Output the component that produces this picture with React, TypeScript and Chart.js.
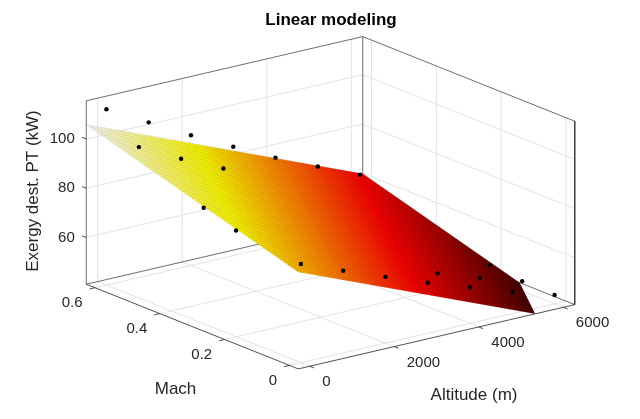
import React, { useEffect, useRef } from 'react';
import { Chart, registerables } from 'chart.js';

Chart.register(...registerables);

// observed points that are visible in the plot (altitude m, Mach, exergy destruction kW)
const obsAltitude = [0, 1000, 2000, 3000, 4000, 5000, 6000, 0, 1000, 2000, 0, 0, 0, 1000, 2000, 3000, 4000, 5000, 6000, 4000, 5000, 6000, 6000];
const obsMach = [0.6, 0.6, 0.6, 0.6, 0.6, 0.6, 0.6, 0.5, 0.5, 0.5, 0.3, 0.2, 0, 0, 0, 0, 0, 0, 0, 0.1, 0.1, 0.1, 0.2];
const obsExergy = [112.4, 103.1, 93.9, 85.2, 76.8, 69.2, 61.9, 102.3, 93.6, 85.6, 88.2, 84.2, 81.1, 74.4, 67.9, 61.5, 55.6, 49.9, 44.6, 56.1, 50.3, 44.9, 46.3];

// linear model: exergy = p00 + p10 * altitude + p01 * mach
const p00 = 79.55;
const p10 = -0.007034;
const p01 = 38.84;

const altTicks = [0, 2000, 4000, 6000];
const machTicks = [0, 0.2, 0.4, 0.6];
const exergyTicks = [60, 80, 100];

const altLimits = [-270, 6270];
const machLimits = [-0.027, 0.627];
const exergyLimits = [41, 115.5];

// screen layout of the 3D box (origin = alt min, mach min, exergy min)
const VIEW = { ox: 298, oy: 372, ax: 280, ay: -65.5, mx: -214.7, my: -86.3, zy: -187 };
const FONT = '"Liberation Sans", Arial, Helvetica, sans-serif';
const MESH = 60;

type P = { x: number | null; y: number | null };
const GAP: P = { x: null, y: null };

const [A0, A1] = altLimits;
const [M0, M1] = machLimits;
const [Z0, Z1] = exergyLimits;

function project(alt: number, mach: number, z: number): P {
  const u = (alt - A0) / (A1 - A0);
  const v = (mach - M0) / (M1 - M0);
  const w = (z - Z0) / (Z1 - Z0);
  return { x: VIEW.ox + u * VIEW.ax + v * VIEW.mx, y: VIEW.oy + u * VIEW.ay + v * VIEW.my + w * VIEW.zy };
}

const model = (alt: number, mach: number) => p00 + p10 * alt + p01 * mach;

// list of segments [[a,m,z],[a,m,z]] -> points with gaps
function segments(list: number[][][]): P[] {
  const out: P[] = [];
  list.forEach((seg, i) => {
    if (i > 0) out.push(GAP);
    seg.forEach(([a, m, z]) => out.push(project(a, m, z)));
  });
  return out;
}

const gridSegs: number[][][] = [];
altTicks.forEach((a) => {
  gridSegs.push([[a, M1, Z0], [a, M1, Z1]]);
  gridSegs.push([[a, M0, Z0], [a, M1, Z0]]);
});
machTicks.forEach((m) => {
  gridSegs.push([[A1, m, Z0], [A1, m, Z1]]);
  gridSegs.push([[A0, m, Z0], [A1, m, Z0]]);
});
exergyTicks.forEach((z) => {
  gridSegs.push([[A0, M1, z], [A1, M1, z]]);
  gridSegs.push([[A1, M0, z], [A1, M1, z]]);
});

const boxSegs: number[][][] = [
  [[A0, M1, Z0], [A0, M1, Z1], [A1, M1, Z1], [A1, M0, Z1], [A1, M0, Z0]],
  [[A1, M1, Z0], [A1, M1, Z1]],
  [[A0, M1, Z0], [A1, M1, Z0], [A1, M0, Z0]],
];

const tickA = 0.02 * (A1 - A0);
const tickM = 0.02 * (M1 - M0);
const axisSegs: number[][][] = [[[A0, M1, Z0], [A0, M0, Z0], [A1, M0, Z0]]];
machTicks.forEach((m) => axisSegs.push([[A0, m, Z0], [A0 - tickA, m, Z0]]));
altTicks.forEach((a) => axisSegs.push([[a, M0, Z0], [a, M0 - tickM, Z0]]));
exergyTicks.forEach((z) => axisSegs.push([[A0, M1, z], [A0, M1 + tickM, z]]));

// surface polygon, clipped at the floor
function surfacePolygon(): P[] {
  const corners = [[A0, M0], [A1, M0], [A1, M1], [A0, M1]].map(([a, m]) => [a, m, model(a, m)]);
  const out: number[][] = [];
  for (let i = 0; i < 4; i++) {
    const p = corners[i];
    const q = corners[(i + 1) % 4];
    const pin = p[2] >= Z0;
    const qin = q[2] >= Z0;
    if (pin) out.push(p);
    if (pin !== qin) {
      const t = (Z0 - p[2]) / (q[2] - p[2]);
      out.push([p[0] + t * (q[0] - p[0]), p[1] + t * (q[1] - p[1]), Z0]);
    }
  }
  const pts = out.map(([a, m, z]) => project(a, m, z));
  pts.push(pts[0]);
  return pts;
}

// mesh edges of the surface, clipped at the floor
function meshSegs(): number[][][] {
  const segs: number[][][] = [];
  for (let i = 0; i <= MESH; i++) {
    const m = M0 + ((M1 - M0) * i) / MESH;
    let aEnd = A1;
    if (model(A1, m) < Z0) aEnd = (Z0 - p00 - p01 * m) / p10;
    if (aEnd > A0) segs.push([[A0, m, model(A0, m)], [aEnd, m, model(aEnd, m)]]);
    const a = A0 + ((A1 - A0) * i) / MESH;
    let mStart = M0;
    if (model(a, M0) < Z0) mStart = (Z0 - p00 - p10 * a) / p01;
    if (mStart < M1) segs.push([[a, mStart, model(a, mStart)], [a, M1, model(a, M1)]]);
  }
  return segs;
}

// MATLAB "hot" colormap
function hot(t: number): string {
  const c = (v: number) => Math.round(255 * Math.min(1, Math.max(0, v)));
  return `rgb(${c(t / 0.375)},${c((t - 0.375) / 0.375)},${c((t - 0.75) / 0.25)})`;
}

function surfaceFill(ctx: any) {
  const chart = ctx.chart;
  if (!chart.chartArea) return '#ff8000';
  const { x: xs, y: ys } = chart.scales;
  const pix = (p: P) => ({ x: xs.getPixelForValue(p.x), y: ys.getPixelForValue(p.y) });
  const zc = [model(A0, M0), model(A1, M0), model(A0, M1), model(A1, M1)];
  const cmin = Math.min(...zc);
  const cmax = Math.max(...zc);
  const s0 = pix(project(A0, M0, zc[0]));
  const s1 = pix(project(A1, M0, zc[1]));
  const s2 = pix(project(A0, M1, zc[2]));
  const d1x = s1.x - s0.x, d1y = s1.y - s0.y, dz1 = zc[1] - zc[0];
  const d2x = s2.x - s0.x, d2y = s2.y - s0.y, dz2 = zc[2] - zc[0];
  const det = d1x * d2y - d1y * d2x;
  const gx = (dz1 * d2y - dz2 * d1y) / det;
  const gy = (d1x * dz2 - d2x * dz1) / det;
  const g2 = gx * gx + gy * gy;
  const tl = (cmin - zc[0]) / g2;
  const th = (cmax - zc[0]) / g2;
  const grad = chart.ctx.createLinearGradient(s0.x + tl * gx, s0.y + tl * gy, s0.x + th * gx, s0.y + th * gy);
  for (let i = 0; i < 64; i++) grad.addColorStop((i + 0.5) / 64, hot((i + 1) / 64));
  return grad;
}

const textPlugin = {
  id: 'axisText',
  afterDraw(chart: any) {
    const { ctx } = chart;
    const { x: xs, y: ys } = chart.scales;
    const pix = (p: P) => ({ x: xs.getPixelForValue(p.x), y: ys.getPixelForValue(p.y) });
    ctx.save();
    ctx.fillStyle = '#262626';
    ctx.font = `15px ${FONT}`;
    ctx.textBaseline = 'middle';
    ctx.textAlign = 'right';
    exergyTicks.forEach((t) => {
      const p = pix(project(A0, M1, t));
      ctx.fillText(String(t), p.x - 11.5, p.y);
    });
    machTicks.forEach((t) => {
      const p = pix(project(A0, t, Z0));
      ctx.fillText(String(t), p.x - 12.5, p.y + 15);
    });
    ctx.textAlign = 'left';
    altTicks.forEach((t) => {
      const p = pix(project(t, M0, Z0));
      ctx.fillText(String(t), p.x + 12.5, p.y + 16);
    });
    ctx.font = `17px ${FONT}`;
    ctx.textAlign = 'center';
    ctx.fillText('Mach', 175.5, 389);
    ctx.fillText('Altitude (m)', 474, 395);
    ctx.save();
    ctx.translate(33, 191);
    ctx.rotate(-Math.PI / 2);
    ctx.fillText('Exergy dest. PT (kW)', 0, 0);
    ctx.restore();
    ctx.fillStyle = '#000';
    ctx.font = `bold 17px ${FONT}`;
    ctx.textBaseline = 'alphabetic';
    ctx.fillText('Linear modeling', 331, 25);
    ctx.restore();
  },
};

const lineSet = (data: P[], color: string, width: number, order: number) => ({
  type: 'line' as const,
  data,
  borderColor: color,
  borderWidth: width,
  pointRadius: 0,
  pointHitRadius: 0,
  fill: false,
  tension: 0,
  spanGaps: false,
  order,
});

export default function App() {
  const canvasRef = useRef<HTMLCanvasElement | null>(null);

  useEffect(() => {
    document.body.style.margin = '0';
    if (!canvasRef.current) return;
    const dots = obsAltitude.map((a, i) => project(a, obsMach[i], obsExergy[i]));
    const chart = new Chart(canvasRef.current, {
      type: 'scatter',
      data: {
        datasets: [
          lineSet(segments(gridSegs), '#e3e3e3', 1, 6),
          lineSet(segments(boxSegs), 'rgba(38,38,38,0.75)', 0.9, 5),
          {
            type: 'line',
            data: surfacePolygon(),
            borderWidth: 0,
            borderColor: 'rgba(0,0,0,0)',
            backgroundColor: surfaceFill,
            fill: 'shape',
            pointRadius: 0,
            pointHitRadius: 0,
            tension: 0,
            order: 4,
          },
          lineSet(segments(meshSegs()), 'rgba(40,20,0,0.2)', 0.6, 3),
          lineSet(segments(axisSegs), 'rgba(38,38,38,0.9)', 0.9, 2),
          {
            type: 'scatter',
            data: dots,
            backgroundColor: '#000',
            borderWidth: 0,
            pointRadius: 2.2,
            order: 1,
          },
        ] as any,
      },
      options: {
        animation: false,
        responsive: false,
        events: [],
        layout: { padding: 0 },
        plugins: { legend: { display: false }, tooltip: { enabled: false } },
        scales: {
          x: { type: 'linear', min: 0, max: 640, display: false },
          y: { type: 'linear', min: 0, max: 419, reverse: true, display: false },
        },
      },
      plugins: [textPlugin],
    });
    return () => chart.destroy();
  }, []);

  return (
    <div style={{ width: 640, height: 419, background: '#fff' }}>
      <canvas ref={canvasRef} width={640} height={419} style={{ display: 'block' }} />
    </div>
  );
}
